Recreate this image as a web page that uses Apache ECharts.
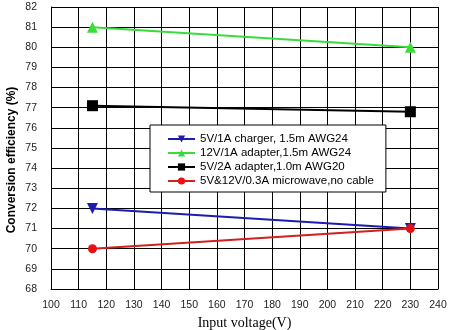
<!DOCTYPE html>
<html><head><meta charset="utf-8">
<script src="https://cdn.jsdelivr.net/npm/echarts@6/dist/echarts.min.js"></script>
<style>html,body{margin:0;padding:0;background:#fff}#c{width:452px;height:330px}</style>
</head><body><div id="c"></div>
<script>
const voltages = [115, 230];
const charger5V1A = [72.0, 71.0];
const adapter12V1A = [81.0, 80.0];
const adapter5V2A = [77.1, 76.8];
const microwave = [70.0, 71.0];
const seriesNames = [
  '5V/1A charger, 1.5m AWG24',
  '12V/1A adapter,1.5m AWG24',
  '5V/2A adapter,1.0m AWG20',
  '5V&12V/0.3A microwave,no cable'
];
const yTitle = 'Conversion efficiency (%)';
const xTitle = 'Input voltage(V)';
const colors = ['#1c1cae', '#3adc3a', '#000000', '#d02020'];
const symbols = ['path://M0,0L10,0L5,9Z', 'triangle', 'rect', 'circle'];
const values = [charger5V1A, adapter12V1A, adapter5V2A, microwave];

const chart = echarts.init(document.getElementById('c'));
chart.setOption({
  animation: false,
  backgroundColor: '#fff',
  grid: { left: 51, right: 14, top: 7, bottom: 41, outerBoundsMode: 'none', containLabel: false },
  graphic: [{
    type: 'text', x: 12, y: 160, rotation: Math.PI / 2,
    style: { text: yTitle, fontFamily: 'Liberation Sans, Arial', fontSize: 12, fontWeight: 'bold',
             fill: '#000', align: 'center', verticalAlign: 'middle' }
  }],
  legend: {
    orient: 'vertical', left: 150, top: 125,
    backgroundColor: '#fff', borderColor: '#000', borderWidth: 1,
    padding: [8, 12, 5, 17], itemGap: 2, itemWidth: 27, itemHeight: 9,
    textStyle: { fontFamily: 'Liberation Sans, Arial', fontSize: 11.5, lineHeight: 12, color: '#000' },
    data: seriesNames
  },
  xAxis: {
    type: 'value', min: 100, max: 240, interval: 10,
    name: xTitle, nameLocation: 'middle', nameGap: 26,
    nameTextStyle: { fontFamily: 'Liberation Serif, Times New Roman', fontSize: 14, color: '#000' },
    axisLine: { lineStyle: { color: '#000', width: 1 } },
    axisTick: { show: false },
    axisLabel: { color: '#222', fontFamily: 'Liberation Sans, Arial', fontSize: 10.5, margin: 11 },
    splitLine: { show: true, lineStyle: { color: '#000', width: 1 } }
  },
  yAxis: {
    type: 'value', min: 68, max: 82, interval: 1,
    axisLine: { show: true, lineStyle: { color: '#000', width: 1 } },
    axisTick: { show: false },
    axisLabel: { color: '#222', fontFamily: 'Liberation Sans, Arial', fontSize: 10.5, margin: 14 },
    splitLine: { show: true, lineStyle: { color: '#000', width: 1 } }
  },
  series: seriesNames.map((n, i) => ({
    name: n, type: 'line',
    data: voltages.map((v, j) => [v, values[i][j]]),
    symbol: symbols[i], symbolSize: i === 3 ? 9 : 11,
    showSymbol: true,
    lineStyle: { color: colors[i], width: 2 },
    itemStyle: { color: i === 3 ? '#e81010' : colors[i] },
    z: 3
  }))
});
</script></body></html>
